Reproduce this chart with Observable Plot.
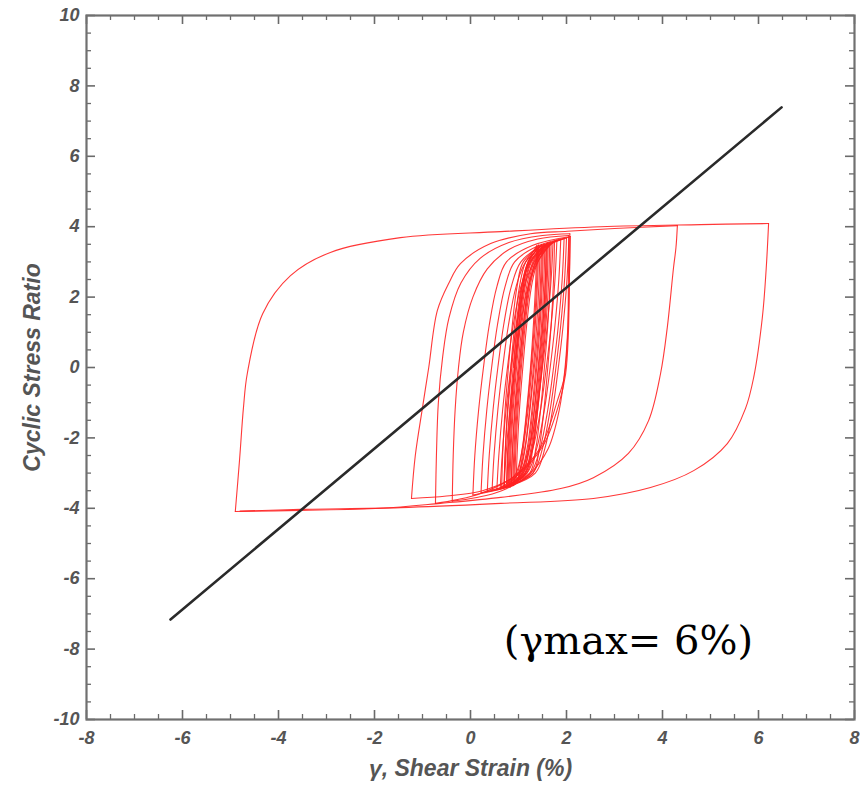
<!DOCTYPE html>
<html><head><meta charset="utf-8">
<script src="https://cdn.jsdelivr.net/npm/d3@7"></script>
<script src="https://cdn.jsdelivr.net/npm/@observablehq/plot@0.6"></script>
<style>body{margin:0;background:#fff;}</style>
</head><body><div id="chart"></div>
<script>
// ---- axis structure ----
const xTicks = [-8, -6, -4, -2, 0, 2, 4, 6, 8];
const yTicks = [-10, -8, -6, -4, -2, 0, 2, 4, 6, 8, 10];
const xMinor = d3.range(-7.5, 8, 0.5).filter(v => v % 2 !== 0);
const yMinor = d3.range(-9.5, 10, 0.5).filter(v => v % 2 !== 0);
const xLabel = "γ, Shear Strain (%)";
const yLabel = "Cyclic Stress Ratio";
const annotations = [{label: "(γmax= 6%)", strain: 3.29, csr: -7.78}];

// ---- reference line (black) ----
const refStrain = [-6.25, 6.48];
const refCSR = [-7.16, 7.39];

// ---- stress-strain path (red), [strain %, CSR], in loading order ----
const narrowCycles = [
  [0.90,0.00],[0.98,1.2],[1.08,2.3],[1.22,3.0],[1.40,3.40],
  [1.38,2.5],[1.33,1.2],[1.26,0],[1.18,-1.2],[1.08,-2.3],[0.95,-3.0],[0.75,-3.30],
  [0.77,-2.5],[0.82,-1.2],[0.89,0],[0.97,1.2],[1.07,2.3],[1.20,3.0],[1.45,3.45],
  [1.43,2.5],[1.38,1.2],[1.31,0],[1.23,-1.2],[1.13,-2.3],[1.00,-3.0],[0.80,-3.30],
  [0.82,-2.5],[0.87,-1.2],[0.94,0],[1.02,1.2],[1.12,2.3],[1.25,3.0],[1.50,3.45],
  [1.48,2.5],[1.43,1.2],[1.36,0],[1.28,-1.2],[1.18,-2.3],[1.05,-3.0],[0.85,-3.35],
  [0.87,-2.5],[0.92,-1.2],[0.99,0],[1.07,1.2],[1.17,2.3],[1.30,3.0],[1.55,3.50],
  [1.53,2.5],[1.48,1.2],[1.41,0],[1.33,-1.2],[1.23,-2.3],[1.10,-3.0],[0.90,-3.35],
  [0.92,-2.5],[0.97,-1.2],[1.04,0],[1.12,1.2],[1.22,2.3],[1.35,3.0],[1.58,3.50],
  [1.56,2.5],[1.51,1.2],[1.44,0],[1.36,-1.2],[1.26,-2.3],[1.13,-3.0],[0.82,-3.40],
  [0.84,-2.5],[0.89,-1.2],[0.96,0],[1.04,1.2],[1.14,2.3],[1.27,3.0],[1.60,3.52],
  [1.58,2.5],[1.53,1.2],[1.46,0],[1.38,-1.2],[1.28,-2.3],[1.15,-3.0],[0.78,-3.40],
  [0.80,-2.5],[0.85,-1.2],[0.92,0],[1.00,1.2],[1.10,2.3],[1.23,3.0],[1.62,3.55],
  [1.60,2.5],[1.55,1.2],[1.48,0],[1.40,-1.2],[1.30,-2.3],[1.17,-3.0],[0.70,-3.40],
  [0.72,-2.5],[0.77,-1.2],[0.84,0],[0.92,1.2],[1.02,2.3],[1.15,3.0],[1.42,3.48],
  [1.40,2.5],[1.35,1.2],[1.28,0],[1.20,-1.2],[1.10,-2.3],[1.02,-3.0],[0.95,-3.30],
  [0.97,-2.5],[1.02,-1.2],[1.09,0],[1.17,1.2],[1.27,2.3],[1.40,3.0],[1.68,3.55],
  [1.66,2.5],[1.61,1.2],[1.54,0],[1.46,-1.2],[1.36,-2.3],[1.23,-3.0],[0.65,-3.38],
  [0.67,-2.5],[0.72,-1.2],[0.79,0],[0.87,1.2],[0.97,2.3],[1.10,3.0],[1.52,3.50],
  [1.50,2.5],[1.45,1.2],[1.38,0],[1.30,-1.2],[1.20,-2.3],[1.07,-3.0],[0.88,-3.36],
  [0.90,-2.5],[0.95,-1.2],[1.02,0],[1.10,1.2],[1.20,2.3],[1.33,3.0],[1.75,3.58],
  [1.73,2.5],[1.68,1.2],[1.61,0],[1.53,-1.2],[1.43,-2.3],[1.30,-3.0],[0.70,-3.40],
  [0.72,-2.5],[0.78,-1.2],[0.86,0],[0.95,1.2],[1.06,2.3],[1.20,3.0],[1.48,3.50],
  [1.46,2.5],[1.41,1.2],[1.33,0],[1.24,-1.2],[1.14,-2.3],[1.03,-3.0],[0.92,-3.32],
  [0.94,-2.5],[0.99,-1.2],[1.06,0],[1.14,1.2],[1.24,2.3],[1.37,3.0],[1.58,3.52],
  [1.56,2.5],[1.50,1.2],[1.42,0],[1.33,-1.2],[1.22,-2.3],[1.08,-3.0],[0.76,-3.36],
  [0.78,-2.5],[0.84,-1.2],[0.92,0],[1.01,1.2],[1.10,2.3],[1.20,3.0],[1.38,3.46],
  [1.36,2.5],[1.31,1.2],[1.25,0],[1.17,-1.2],[1.08,-2.3],[0.98,-3.0],[0.85,-3.34],
  [0.87,-2.5],[0.93,-1.2],[1.01,0],[1.10,1.2],[1.21,2.3],[1.36,3.0],[1.65,3.55],
  [1.63,2.5],[1.57,1.2],[1.49,0],[1.40,-1.2],[1.29,-2.3],[1.14,-3.0],[0.70,-3.40]
];
const coreCycles = [
  [0.74,-2.5],[0.82,-1.2],[0.92,0],[1.04,1.2],[1.20,2.3],[1.40,3.0],[1.72,3.58],
  [1.68,2.5],[1.60,1.2],[1.50,0],[1.38,-1.2],[1.22,-2.3],[1.02,-3.0],[0.62,-3.42],
  [0.66,-2.5],[0.74,-1.2],[0.84,0],[0.96,1.2],[1.12,2.3],[1.32,3.0],[1.52,3.38],[1.80,3.62],
  [1.76,2.5],[1.68,1.2],[1.58,0],[1.46,-1.2],[1.30,-2.3],[1.10,-3.0],[0.85,-3.30],[0.55,-3.45],
  [0.59,-2.5],[0.67,-1.2],[0.77,0],[0.89,1.2],[1.05,2.3],[1.25,3.0],[1.52,3.40],[1.88,3.64],
  [1.84,2.5],[1.76,1.2],[1.66,0],[1.54,-1.2],[1.38,-2.3],[1.18,-3.0],[0.85,-3.32],[0.45,-3.48],
  [0.49,-2.5],[0.57,-1.2],[0.67,0],[0.79,1.2],[0.95,2.3],[1.15,3.0],[1.50,3.42],[1.95,3.66],
  [1.91,2.5],[1.83,1.2],[1.73,0],[1.61,-1.2],[1.45,-2.3],[1.25,-3.0],[0.85,-3.35],[0.35,-3.52],
  [0.39,-2.5],[0.47,-1.2],[0.57,0],[0.69,1.2],[0.85,2.3],[1.05,3.0],[1.45,3.43],[2.00,3.68],
  [1.96,2.5],[1.88,1.2],[1.78,0],[1.66,-1.2],[1.50,-2.3],[1.30,-3.0],[0.80,-3.38],[0.22,-3.56],
  [0.26,-2.5],[0.34,-1.2],[0.44,0],[0.56,1.2],[0.72,2.3],[0.92,3.0],[1.40,3.45],[2.05,3.70],
  [2.01,2.5],[1.93,1.2],[1.83,0],[1.71,-1.2],[1.55,-2.3],[1.35,-3.0],[0.75,-3.40],[0.05,-3.62],
  [0.09,-2.5],[0.17,-1.2],[0.27,0],[0.39,1.2],[0.55,2.3],[0.75,3.0],[1.30,3.47],[2.08,3.72]
];
const wideCycles = [
  [2.06,2.5],[2.03,1.2],[1.97,0],[1.85,-1.2],[1.62,-2.3],[1.25,-3.0],[0.65,-3.5],[0.10,-3.7],[-0.38,-3.80],
  [-0.36,-2.5],[-0.32,-1.2],[-0.25,0],[-0.15,1.0],[0.05,2.0],[0.35,2.8],[0.80,3.35],[1.40,3.65],[2.05,3.75],
  [2.04,2.5],[2.02,0.77],[1.95,-0.3],[1.81,-0.94],[1.46,-2.27],[0.90,-3.1],[0.21,-3.58],[-0.30,-3.76],[-0.73,-3.86],
  [-0.71,-2.5],[-0.67,-1.0],[-0.58,0.3],[-0.45,1.4],[-0.20,2.4],[0.20,3.1],[0.80,3.55],[1.50,3.75],[2.07,3.80],
  [2.06,2.5],[2.04,1.0],[1.98,-0.2],[1.85,-1.0],[1.52,-2.2],[0.98,-3.05],[0.25,-3.5],[-0.50,-3.65],[-1.23,-3.72]
];
const largeCycles = [
  [-1.15,-2.5],[-1.00,-1.14],[-0.87,0],[-0.69,1.62],[-0.45,2.4],[-0.21,2.95],[0.42,3.52],[1.25,3.80],[2.02,3.87],[3.00,3.95],[4.31,4.03],
  [4.28,3.4],[4.23,2.84],[4.10,1.14],[3.96,-0.17],[3.71,-1.51],[3.29,-2.44],[2.56,-3.13],[1.88,-3.44],[0.63,-3.69],[-0.63,-3.86],[-1.88,-4.00],[-3.54,-4.06],[-4.90,-4.09],
  [-4.81,-2.6],[-4.73,-1.14],[-4.65,-0.17],[-4.33,1.53],[-3.75,2.61],[-2.92,3.27],[-1.46,3.69],[0.63,3.86],[2.71,4.00],[4.79,4.06],[6.21,4.09],
  [6.16,2.8],[6.08,1.42],[5.90,-0.28],[5.73,-1.16],[5.35,-2.16],[4.65,-2.93],[3.75,-3.41],[2.56,-3.72],[0.63,-3.86],[-1.46,-3.98],[-3.54,-4.03],[-4.80,-4.08]
];

const path = [...narrowCycles, ...coreCycles, ...wideCycles, ...largeCycles];

// split the path into loading branches at stress reversals (corner points shared)
const branches = [];
let branch = 0, prevSign = 0;
path.forEach((p, i) => {
  if (i > 0) {
    const s = Math.sign(p[1] - path[i - 1][1]);
    if (prevSign !== 0 && s !== 0 && s !== prevSign) {
      branch++;
      branches.push({strain: path[i - 1][0], csr: path[i - 1][1], branch});
    }
    if (s !== 0) prevSign = s;
  }
  branches.push({strain: p[0], csr: p[1], branch});
});
const refLine = refStrain.map((s, i) => ({strain: s, csr: refCSR[i]}));

const tickColor = "#6a6a6a";
const frameH = 704, frameW = 768;
const labelFont = {fontFamily: "Liberation Sans, Arial, sans-serif", fontWeight: "bold", fontStyle: "italic", fill: "#555"};

const chart = Plot.plot({
  width: 860,
  height: 790,
  marginLeft: 86,
  marginRight: 6,
  marginTop: 15,
  marginBottom: 71,
  x: {domain: [-8, 8]},
  y: {domain: [-10, 10]},
  style: {background: "#fff"},
  marks: [
    Plot.ruleX(xTicks, {stroke: tickColor, strokeWidth: 1.6, insetTop: frameH - 9}),
    Plot.ruleX(xTicks, {stroke: tickColor, strokeWidth: 1.6, insetBottom: frameH - 9}),
    Plot.ruleX(xMinor, {stroke: tickColor, strokeWidth: 1.3, insetTop: frameH - 5}),
    Plot.ruleX(xMinor, {stroke: tickColor, strokeWidth: 1.3, insetBottom: frameH - 5}),
    Plot.ruleY(yTicks, {stroke: tickColor, strokeWidth: 1.6, insetRight: frameW - 9}),
    Plot.ruleY(yTicks, {stroke: tickColor, strokeWidth: 1.6, insetLeft: frameW - 9}),
    Plot.ruleY(yMinor, {stroke: tickColor, strokeWidth: 1.3, insetRight: frameW - 5}),
    Plot.ruleY(yMinor, {stroke: tickColor, strokeWidth: 1.3, insetLeft: frameW - 5}),
    Plot.axisX(xTicks, {tickSize: 0, tickPadding: 12, tickFormat: d => String(d), fontSize: 18, label: null, ...labelFont}),
    Plot.axisY(yTicks, {tickSize: 0, tickPadding: 7, tickFormat: d => String(d), fontSize: 18, label: null, ...labelFont}),
    Plot.line(branches, {x: "strain", y: "csr", z: "branch", curve: "catmull-rom", stroke: "#ff2222", strokeWidth: 1.1, strokeOpacity: 0.9, strokeLinejoin: "round"}),
    Plot.line(refLine, {x: "strain", y: "csr", stroke: "#2a2a2a", strokeWidth: 2.6}),
    Plot.frame({stroke: "#707070", strokeWidth: 2.2}),
    Plot.text([xLabel], {text: d => d, frameAnchor: "bottom", dy: 56, fontSize: 23, textAnchor: "middle", ...labelFont}),
    Plot.text([yLabel], {text: d => d, frameAnchor: "left", dx: -54, rotate: -90, fontSize: 23, textAnchor: "middle", ...labelFont}),
    Plot.text(annotations, {x: "strain", y: "csr", text: "label", fontFamily: "DejaVu Serif", fontSize: 40, fill: "#000", textAnchor: "middle"})
  ]
});
document.getElementById("chart").appendChild(chart);
</script>
</body></html>
